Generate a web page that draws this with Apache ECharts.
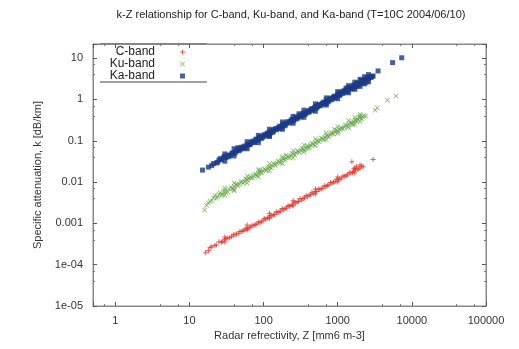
<!DOCTYPE html>
<html>
<head>
<meta charset="utf-8">
<script src="https://cdn.jsdelivr.net/npm/echarts@6/dist/echarts.min.js"></script>
<style>
  html, body { margin: 0; padding: 0; background: #fff; }
  #main { width: 519px; height: 349px; }
</style>
</head>
<body>
<div id="main"></div>
<script>
// [Z (mm6 m-3), k (dB/km)]
const cBand = [
  [16.5, 0.000195], [19, 0.00026], [22, 0.00029], [25, 0.00036], [28, 0.00037],
  [31, 0.00043], [35, 0.00045], [39, 0.00053], [43, 0.00055], [48, 0.00064],
  [53, 0.00066], [58, 0.00076], [64, 0.00079], [70, 0.0009], [77, 0.00094],
  [85, 0.00108], [93, 0.0011], [102, 0.00132], [112, 0.00135], [123, 0.00158],
  [135, 0.0016], [148, 0.0019], [162, 0.0019], [178, 0.0023], [195, 0.0023],
  [214, 0.0027], [235, 0.0028], [258, 0.0033], [283, 0.0033], [310, 0.004],
  [340, 0.004], [373, 0.0047], [410, 0.0048], [450, 0.0057], [495, 0.0058],
  [545, 0.0068], [600, 0.0069], [660, 0.0081], [725, 0.0083], [800, 0.0097],
  [880, 0.0099], [970, 0.0117], [1070, 0.0118], [1180, 0.014], [1300, 0.0142],
  [1430, 0.0168], [1550, 0.031], [1580, 0.017], [1740, 0.02], [1920, 0.0208],
  [2100, 0.0245], [3000, 0.035],
  [18, 0.00022], [20, 0.00027], [23, 0.0003], [27, 0.00035], [30, 0.0004],
  [33, 0.00044], [37, 0.00048], [41, 0.00053], [46, 0.00058], [51, 0.00064],
  [56, 0.0007], [61, 0.00074], [67, 0.00082], [74, 0.00088], [81, 0.00097],
  [89, 0.00104], [98, 0.00115], [107, 0.00126], [118, 0.0014], [129, 0.0015],
  [141, 0.00165], [155, 0.0018], [170, 0.00197], [186, 0.00215], [204, 0.00235],
  [224, 0.00255], [246, 0.0028], [270, 0.0031], [296, 0.0034], [325, 0.0037],
  [356, 0.0041], [390, 0.0044], [430, 0.0049], [472, 0.0053], [520, 0.0059],
  [572, 0.0065], [630, 0.0071], [692, 0.0078], [762, 0.0086], [840, 0.0094],
  [925, 0.0104], [1020, 0.0114], [1120, 0.0126], [1240, 0.0138], [1360, 0.0152],
  [1500, 0.0167], [1650, 0.0184], [1830, 0.0202], [2000, 0.022], [2200, 0.0235],
  [1650, 0.021], [1800, 0.024], [2000, 0.026],
  [30, 0.00047], [30, 0.000355], [60, 0.00091], [60, 0.00069], [120, 0.00175],
  [120, 0.00133], [250, 0.00353], [250, 0.00267], [500, 0.00683], [500, 0.00516],
  [1000, 0.0132], [1000, 0.01], [1700, 0.0219], [1700, 0.0166]
];
const kuBand = [
  [16, 0.0021], [18, 0.0031], [20, 0.0036], [22, 0.0047], [24, 0.0044],
  [26, 0.0055], [28, 0.005], [30, 0.0063], [33, 0.0058], [36, 0.0074],
  [39, 0.0069], [42, 0.0087], [45, 0.008], [49, 0.01], [53, 0.0095],
  [57, 0.0118], [61, 0.011], [66, 0.0135], [71, 0.0125], [76, 0.0155],
  [82, 0.0145], [88, 0.0178], [95, 0.0165], [102, 0.021], [110, 0.019],
  [118, 0.0235], [127, 0.022], [136, 0.028], [146, 0.0255], [157, 0.032],
  [168, 0.029], [180, 0.037], [195, 0.034], [210, 0.042], [225, 0.039],
  [245, 0.049], [265, 0.045], [285, 0.057], [305, 0.052], [330, 0.065],
  [355, 0.06], [385, 0.075], [415, 0.07], [445, 0.087], [480, 0.08],
  [520, 0.1], [560, 0.094], [600, 0.116], [650, 0.108], [700, 0.135],
  [760, 0.125], [820, 0.155], [880, 0.145], [950, 0.18], [1020, 0.165],
  [1100, 0.205], [1180, 0.195], [1270, 0.24], [1370, 0.22], [1470, 0.275],
  [1580, 0.26], [1700, 0.32], [1820, 0.3], [1950, 0.365], [2100, 0.34],
  [2250, 0.41], [2400, 0.4], [3200, 0.55], [3400, 0.63], [4700, 0.96],
  [6100, 1.22],
  [17, 0.0027], [19, 0.0034], [21, 0.0042], [23, 0.004], [25, 0.0051],
  [27, 0.0048], [29, 0.0058], [31, 0.0056], [34, 0.0068], [38, 0.0071],
  [41, 0.0078], [44, 0.0088], [47, 0.0087], [51, 0.0103], [55, 0.0102],
  [59, 0.0115], [63, 0.0123], [68, 0.0128], [73, 0.0142], [79, 0.015],
  [85, 0.0162], [91, 0.017], [98, 0.0185], [106, 0.02], [114, 0.0215],
  [122, 0.023], [131, 0.025], [141, 0.027], [151, 0.029], [162, 0.031],
  [174, 0.033], [187, 0.036], [202, 0.038], [218, 0.041], [235, 0.044],
  [255, 0.047], [275, 0.051], [295, 0.055], [318, 0.058], [342, 0.063],
  [370, 0.067], [400, 0.073], [430, 0.078], [462, 0.084], [500, 0.09],
  [540, 0.098], [580, 0.105], [625, 0.112], [675, 0.122], [730, 0.13],
  [790, 0.142], [850, 0.152], [915, 0.163], [985, 0.175], [1060, 0.188],
  [1140, 0.2], [1220, 0.215], [1320, 0.23], [1420, 0.25], [1525, 0.27],
  [1640, 0.29], [1760, 0.31], [1880, 0.33], [2020, 0.355], [2170, 0.38],
  [40, 0.0062], [90, 0.02], [200, 0.045], [400, 0.064], [900, 0.19],
  [1600, 0.24], [2000, 0.4],
  [30, 0.0072], [30, 0.0048], [40, 0.0095], [40, 0.0064], [60, 0.0141],
  [60, 0.0095], [85, 0.0198], [85, 0.0133], [120, 0.0278], [120, 0.0187],
  [180, 0.0414], [180, 0.0278], [250, 0.057], [250, 0.0384], [350, 0.0794],
  [350, 0.0534], [500, 0.1126], [500, 0.0757], [700, 0.1565], [700, 0.1052],
  [1000, 0.222], [1000, 0.149], [1400, 0.309], [1400, 0.207], [1700, 0.373],
  [1700, 0.251], [2000, 0.438], [2000, 0.294]
];
const kaBand = [
  [15, 0.0195], [18, 0.023], [21, 0.028], [23, 0.029], [25, 0.034],
  [27, 0.035], [29, 0.04], [31, 0.039], [33, 0.045], [35, 0.044],
  [38, 0.051], [40, 0.049], [43, 0.058], [46, 0.057], [49, 0.066],
  [52, 0.064], [55, 0.074], [58, 0.07], [62, 0.083], [66, 0.082],
  [70, 0.094], [74, 0.09], [78, 0.105], [83, 0.104], [88, 0.118],
  [93, 0.114], [98, 0.13], [105, 0.13], [112, 0.15], [118, 0.146],
  [125, 0.165], [132, 0.16], [140, 0.19], [150, 0.185], [160, 0.21],
  [170, 0.2], [180, 0.24], [190, 0.23], [205, 0.27], [220, 0.27],
  [235, 0.31], [250, 0.3], [265, 0.35], [280, 0.34], [300, 0.39],
  [320, 0.38], [340, 0.45], [360, 0.43], [385, 0.5], [410, 0.49],
  [435, 0.57], [460, 0.55], [490, 0.64], [520, 0.62], [550, 0.72],
  [580, 0.7], [620, 0.8], [660, 0.78], [700, 0.92], [740, 0.87],
  [780, 1.02], [830, 0.98], [880, 1.15], [930, 1.1], [990, 1.3],
  [1050, 1.25], [1100, 1.45], [1180, 1.4], [1250, 1.62], [1330, 1.55],
  [1400, 1.85], [1500, 1.78], [1600, 2.1], [1700, 2.0], [1800, 2.35],
  [1900, 2.2], [2000, 2.6], [2150, 2.5], [2300, 2.95], [2450, 2.8],
  [2600, 3.3], [2800, 3.4], [3000, 3.7], [3500, 4.9], [5500, 7.8],
  [7300, 10.2],
  [20, 0.025], [24, 0.03], [26, 0.037], [30, 0.042], [34, 0.041],
  [37, 0.048], [42, 0.053], [45, 0.062], [48, 0.06], [51, 0.07],
  [54, 0.068], [60, 0.079], [64, 0.08], [68, 0.09], [72, 0.098],
  [76, 0.095], [80, 0.11], [86, 0.11], [90, 0.125], [96, 0.12],
  [102, 0.14], [108, 0.138], [115, 0.155], [122, 0.15], [128, 0.175],
  [136, 0.17], [145, 0.195], [155, 0.2], [165, 0.225], [175, 0.22],
  [185, 0.25], [198, 0.24], [212, 0.29], [228, 0.29], [242, 0.33],
  [258, 0.32], [272, 0.37], [290, 0.36], [310, 0.41], [330, 0.42],
  [350, 0.47], [372, 0.46], [398, 0.53], [422, 0.53], [448, 0.6],
  [475, 0.59], [505, 0.68], [535, 0.67], [565, 0.76], [600, 0.74],
  [640, 0.86], [680, 0.84], [720, 0.97], [760, 0.93], [800, 1.08],
  [855, 1.05], [905, 1.2], [960, 1.17], [1020, 1.38], [1080, 1.32],
  [1140, 1.52], [1210, 1.5], [1290, 1.72], [1360, 1.7], [1450, 1.95],
  [1550, 1.9], [1650, 2.25], [1750, 2.15], [1850, 2.5], [1950, 2.4],
  [2080, 2.75], [2200, 2.7], [2380, 3.1], [2520, 3.05], [2700, 3.5],
  [2900, 3.6], [1200, 1.6], [1600, 1.9], [2100, 2.9], [2500, 3.4],
  [45, 0.068], [120, 0.13], [300, 0.45], [700, 0.8], [1300, 1.9],
  [1800, 2.1], [2400, 2.6],
  [30, 0.048], [30, 0.032], [40, 0.064], [40, 0.043], [60, 0.095],
  [60, 0.064], [85, 0.135], [85, 0.09], [120, 0.19], [120, 0.128],
  [180, 0.285], [180, 0.19], [250, 0.39], [250, 0.265], [350, 0.55],
  [350, 0.37], [500, 0.78], [500, 0.52], [700, 1.09], [700, 0.73],
  [1000, 1.55], [1000, 1.04], [1400, 2.16], [1400, 1.45], [1700, 2.62],
  [1700, 1.76], [2000, 3.07], [2000, 2.07], [2300, 3.54], [2300, 2.38],
  [2600, 3.99], [2600, 2.68]
];

const xMin = 0.5, xMax = 100000;
const yMin = 1e-5, yMax = 22;

const fmtY = v => {
  const e = Math.round(Math.log10(v));
  if (e >= -3) return String(Math.pow(10, e));
  return '1e-0' + (-e);
};
const fmtX = v => String(Math.pow(10, Math.round(Math.log10(v))));

const PLUS = 'path://M0,4H10V6H0Z M4,0H6V10H4Z';
const CROSS = 'path://M0,1L1,0L5,4L9,0L10,1L6,5L10,9L9,10L5,6L1,10L0,9L4,5Z';

const tickStyle = { show: true, inside: true, length: 4, lineStyle: { color: '#555' } };
const minorStyle = { show: true, splitNumber: 3, length: 2, lineStyle: { color: '#777' } };

const chart = echarts.init(document.getElementById('main'));
chart.setOption({
  animation: false,
  backgroundColor: '#fff',
  title: {
    text: 'k-Z relationship for C-band, Ku-band, and Ka-band (T=10C 2004/06/10)',
    left: 286, top: 4, textAlign: 'center',
    textStyle: { fontFamily: 'Liberation Sans', fontSize: 11, fontWeight: 'normal', color: '#222' }
  },
  grid: { left: 93, right: 33, top: 44, bottom: 43, show: true, borderColor: '#888', borderWidth: 1 },
  legend: {
    orient: 'vertical', left: 100, top: 41, align: 'right',
    itemWidth: 5, itemHeight: 5, itemGap: 0,
    textStyle: { fontFamily: 'Liberation Sans', fontSize: 12, lineHeight: 12, color: '#222', width: 50, align: 'right', padding: [0, 20, 0, 0] },
    data: ['C-band', 'Ku-band', 'Ka-band']
  },
  graphic: [
    { type: 'line', shape: { x1: 100, y1: 44, x2: 207, y2: 44 }, style: { stroke: '#444', lineWidth: 1 } },
    { type: 'line', shape: { x1: 100, y1: 82, x2: 207, y2: 82 }, style: { stroke: '#444', lineWidth: 1 } }
  ],
  xAxis: [{
    type: 'log', logBase: 10, min: xMin, max: xMax,
    name: 'Radar refrectivity, Z [mm6 m-3]', nameLocation: 'middle', nameGap: 24,
    nameTextStyle: { fontFamily: 'Liberation Sans', fontSize: 11, color: '#333' },
    axisLine: { lineStyle: { color: '#888' } },
    axisTick: tickStyle, minorTick: minorStyle,
    axisLabel: { showMinLabel: false, formatter: fmtX, margin: 9, fontFamily: 'Liberation Sans', fontSize: 11, color: '#333' },
    splitLine: { show: false }
  }, {
    type: 'log', logBase: 10, min: xMin, max: xMax, position: 'top',
    axisLine: { lineStyle: { color: '#888' } },
    axisTick: tickStyle, minorTick: minorStyle,
    axisLabel: { show: false }, splitLine: { show: false }
  }],
  yAxis: [{
    type: 'log', logBase: 10, min: yMin, max: yMax, splitNumber: 6,
    name: 'Specific attenuation, k [dB/km]', nameLocation: 'middle', nameGap: 50,
    nameTextStyle: { fontFamily: 'Liberation Sans', fontSize: 11, color: '#333' },
    axisLine: { lineStyle: { color: '#888' } },
    axisTick: tickStyle, minorTick: minorStyle,
    axisLabel: { showMaxLabel: false, formatter: fmtY, margin: 10, fontFamily: 'Liberation Sans', fontSize: 11, color: '#333' },
    splitLine: { show: false }
  }, {
    type: 'log', logBase: 10, min: yMin, max: yMax, splitNumber: 6, position: 'right',
    axisLine: { lineStyle: { color: '#888' } },
    axisTick: tickStyle, minorTick: minorStyle,
    axisLabel: { show: false }, splitLine: { show: false }
  }],
  series: [
    { name: 'C-band', type: 'scatter', data: cBand, symbol: PLUS, symbolSize: 5, itemStyle: { color: '#e0352a' } },
    { name: 'Ku-band', type: 'scatter', data: kuBand, symbol: CROSS, symbolSize: 5, itemStyle: { color: '#62a444' } },
    { name: 'Ka-band', type: 'scatter', data: kaBand, symbol: 'rect', symbolSize: 5, itemStyle: { color: '#1c3a86' } }
  ]
});
</script>
</body>
</html>
